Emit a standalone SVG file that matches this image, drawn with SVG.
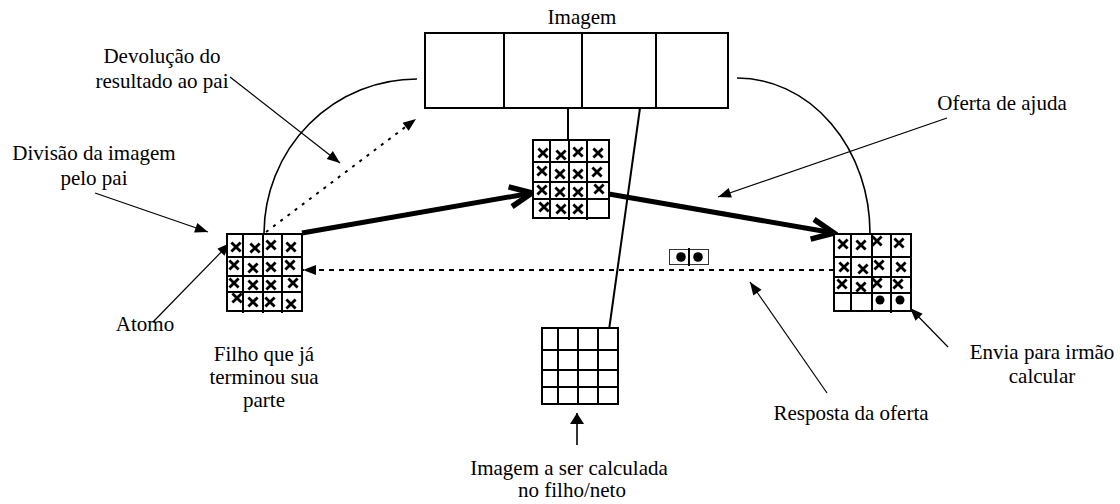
<svg xmlns="http://www.w3.org/2000/svg" width="1120" height="504" viewBox="0 0 1120 504">
<defs>
<style>
text{font-family:'Liberation Serif','Times New Roman',serif;font-size:21px;fill:#000;text-anchor:middle}
.g{fill:#fff;stroke:#000;stroke-width:2}
.gl{stroke:#000;stroke-width:2;fill:none}
.thin{stroke:#000;stroke-width:1.2;fill:none}
.thick{stroke:#000;stroke-width:5;fill:none}
.x{stroke:#000;stroke-width:2.8;fill:none}
</style>
<path id="cr" d="M-4.6,-4.6 L4.6,4.6 M4.6,-4.6 L-4.6,4.6" class="x"/>
<marker id="ah" markerUnits="userSpaceOnUse" markerWidth="16" markerHeight="16" viewBox="-14 -8 16 16" refX="0" refY="0" orient="auto">
<path d="M0,0 L-13,-5 L-13,5 Z" fill="#000"/>
</marker>
<marker id="ahb" markerUnits="userSpaceOnUse" markerWidth="18" markerHeight="18" viewBox="-12 -9 14 18" refX="0" refY="0" orient="auto">
<path d="M0,0 L-11,-7 L-11,7 Z" fill="#000"/>
</marker>
<marker id="chev" markerUnits="userSpaceOnUse" markerWidth="32" markerHeight="32" viewBox="-28 -16 32 32" refX="0" refY="0" orient="auto">
<path d="M-22,-10 L0,0 L-22,10" fill="none" stroke="#000" stroke-width="5.5" stroke-linejoin="miter"/>
</marker>
</defs>
<rect width="1120" height="504" fill="#fff"/>

<g id="imagem">
<rect x="425" y="33" width="303" height="75" fill="#fff" stroke="#000" stroke-width="2"/>
<line x1="504" y1="33" x2="504" y2="108" class="gl"/>
<line x1="582" y1="33" x2="582" y2="108" class="gl"/>
<line x1="656" y1="33" x2="656" y2="108" class="gl"/>
<text x="582" y="24">Imagem</text>
</g>

<g id="connectors">
<path d="M264,233 A153,155 0 0 1 417,79" stroke="#000" stroke-width="1.6" fill="none"/>
<path d="M737,78 A133,155 0 0 1 870,233" stroke="#000" stroke-width="1.6" fill="none"/>
<line x1="568" y1="108" x2="568" y2="140" class="gl"/>
<line x1="640" y1="108" x2="609" y2="330" class="gl"/>
<line x1="266" y1="232" x2="416" y2="119" stroke="#000" stroke-width="2" stroke-dasharray="3,6" marker-end="url(#ah)"/>
<line x1="834" y1="270" x2="303" y2="270" stroke="#000" stroke-width="2" stroke-dasharray="5,5" marker-end="url(#ah)"/>
<line x1="302" y1="233" x2="532" y2="193" class="thick" marker-end="url(#chev)"/>
<line x1="603" y1="193" x2="834" y2="233" class="thick" marker-end="url(#chev)"/>
<line x1="230" y1="77" x2="340" y2="163" class="thin" marker-end="url(#ah)"/>
<line x1="95" y1="193" x2="208" y2="232" class="thin" marker-end="url(#ah)"/>
<line x1="153" y1="322" x2="230" y2="243" class="thin" marker-end="url(#ah)"/>
<line x1="947" y1="118" x2="718" y2="197" class="thin" marker-end="url(#ah)"/>
<line x1="948" y1="347" x2="910" y2="308" class="thin" marker-end="url(#ah)"/>
<line x1="827" y1="393" x2="750" y2="282" class="thin" marker-end="url(#ah)"/>
<line x1="577" y1="445" x2="577" y2="413" stroke="#000" stroke-width="1.6" marker-end="url(#ahb)"/>
</g>

<g id="grid-left">
<rect x="227" y="234" width="75" height="77" class="g"/>
<path d="M243,234 V313 M263,234 V313 M282,234 V313 M227,257 H302 M227,276 H302 M227,292 H302" class="gl"/>
<use href="#cr" x="236" y="247"/><use href="#cr" x="255" y="248"/><use href="#cr" x="271" y="245"/><use href="#cr" x="291" y="247"/>
<use href="#cr" x="234" y="265"/><use href="#cr" x="253" y="268"/><use href="#cr" x="271" y="267"/><use href="#cr" x="290" y="265"/>
<use href="#cr" x="234" y="283"/><use href="#cr" x="253" y="285"/><use href="#cr" x="271" y="285"/><use href="#cr" x="293" y="283"/>
<use href="#cr" x="237" y="298"/><use href="#cr" x="253" y="302"/><use href="#cr" x="270" y="302"/><use href="#cr" x="291" y="304"/>
</g>

<g id="grid-middle">
<rect x="533" y="140" width="76" height="78" class="g"/>
<path d="M550,140 V219 M569,140 V220 M587,140 V220 M533,162 H609 M533,182 H609 M533,199 H609" class="gl"/>
<use href="#cr" x="543" y="153"/><use href="#cr" x="561" y="155"/><use href="#cr" x="578" y="152"/><use href="#cr" x="598" y="153"/>
<use href="#cr" x="542" y="171"/><use href="#cr" x="560" y="174"/><use href="#cr" x="578" y="174"/><use href="#cr" x="597" y="172"/>
<use href="#cr" x="542" y="190"/><use href="#cr" x="560" y="192"/><use href="#cr" x="578" y="192"/><use href="#cr" x="599" y="189"/>
<use href="#cr" x="544" y="207"/><use href="#cr" x="561" y="209"/><use href="#cr" x="578" y="209"/>
</g>

<g id="grid-right">
<rect x="834" y="234" width="77" height="77" class="g"/>
<path d="M851,234 V311 M872,234 V311 M891,234 V313 M834,257 H911 M834,277 H911 M834,293 H911" class="gl"/>
<use href="#cr" x="843" y="244"/><use href="#cr" x="861" y="245"/><use href="#cr" x="877" y="241"/><use href="#cr" x="899" y="243"/>
<use href="#cr" x="844" y="267"/><use href="#cr" x="863" y="269"/><use href="#cr" x="879" y="265"/><use href="#cr" x="901" y="267"/>
<use href="#cr" x="842" y="284"/><use href="#cr" x="861" y="287"/><use href="#cr" x="877" y="283"/><use href="#cr" x="898" y="284"/>
<circle cx="880" cy="300" r="4.5" fill="#000"/><circle cx="900" cy="300" r="4.5" fill="#000"/>
</g>

<g id="grid-bottom">
<rect x="542" y="328" width="76" height="76" class="g"/>
<path d="M558,328 V404 M578,328 V404 M598,328 V404 M542,350 H618 M542,370 H618 M542,387 H618" class="gl"/>
</g>

<g id="packet">
<rect x="669.5" y="249.5" width="39" height="15" fill="#fff" stroke="#333" stroke-width="1"/>
<line x1="689" y1="248" x2="689" y2="266" stroke="#000" stroke-width="2"/>
<circle cx="681" cy="257" r="4.8" fill="#000"/><circle cx="698" cy="257" r="4.8" fill="#000"/>
</g>

<g id="labels">
<text x="162" y="63">Devolução do</text>
<text x="162" y="88">resultado ao pai</text>
<text x="94" y="160">Divisão da imagem</text>
<text x="94" y="185">pelo pai</text>
<text x="145" y="331">Atomo</text>
<text x="264" y="361">Filho que já</text>
<text x="264" y="384">terminou sua</text>
<text x="264" y="407">parte</text>
<text x="1002" y="110">Oferta de ajuda</text>
<text x="1042" y="359">Envia para irmão</text>
<text x="1042" y="383">calcular</text>
<text x="851" y="420">Resposta da oferta</text>
<text x="569" y="475">Imagem a ser calculada</text>
<text x="572" y="497">no filho/neto</text>
</g>
</svg>
